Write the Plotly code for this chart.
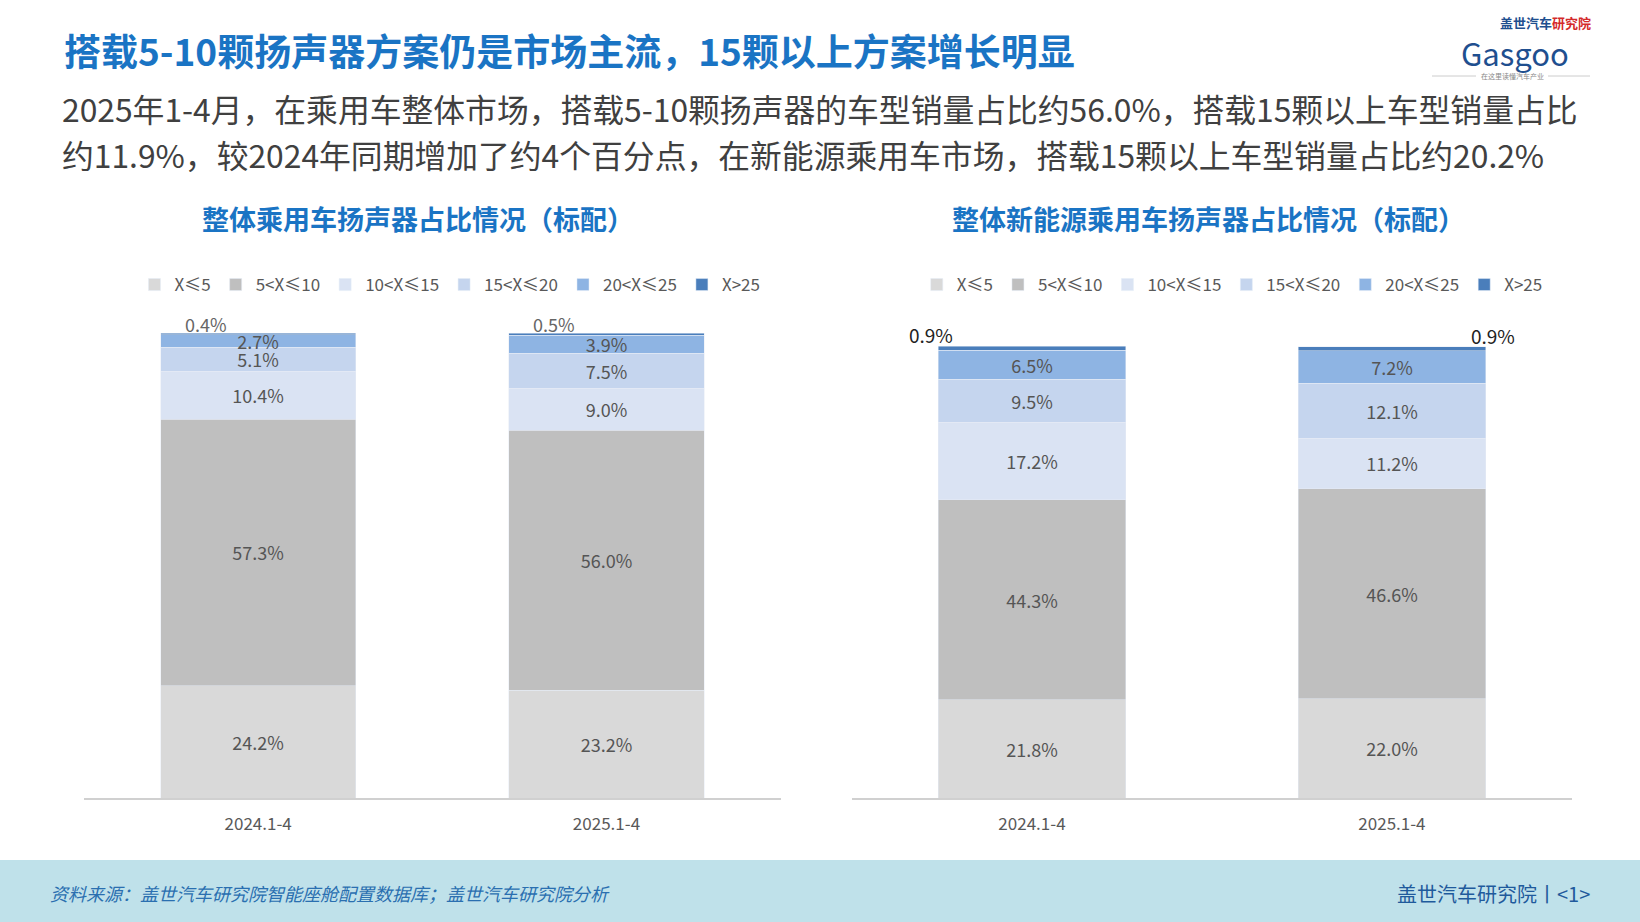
import plotly.graph_objects as go

cats = ["2024.1-4", "2025.1-4"]
series = ["X≤5", "5<X≤10", "10<X≤15", "15<X≤20", "20<X≤25", "X>25"]
legend_labels = ["X≤5", "5<X≤10", "10<X≤15", "15<X≤20", "20<X≤25", "X>25"]
left_vals = [[24.2, 23.2], [57.3, 56.0], [10.4, 9.0], [5.1, 7.5], [2.7, 3.9], [0.4, 0.5]]
right_vals = [[21.8, 22.0], [44.3, 46.6], [17.2, 11.2], [9.5, 12.1], [6.5, 7.2], [0.9, 0.9]]
colors = ["#d9d9d9", "#bfbfbf", "#dae3f3", "#c5d5ee", "#8eb4e3", "#4a7ebb"]

font_cjk = "Noto Sans CJK SC"
lblfont = dict(size=18, color="#555555", family=font_cjk)

fig = go.Figure()
for i, s in enumerate(series):
    top = i == len(series) - 1
    fig.add_trace(go.Bar(x=cats, y=left_vals[i], name=legend_labels[i], marker_color=colors[i],
                         width=0.56, xaxis="x", yaxis="y", legendgroup=s,
                         text=None if top else [f"{v:.1f}%" for v in left_vals[i]],
                         textposition="inside", insidetextanchor="middle", textfont=lblfont,
                         constraintext="none", hoverinfo="skip"))
    fig.add_trace(go.Bar(x=cats, y=right_vals[i], name=legend_labels[i], marker_color=colors[i],
                         width=0.52, xaxis="x2", yaxis="y2", legendgroup=s, showlegend=False,
                         text=None if top else [f"{v:.1f}%" for v in right_vals[i]],
                         textposition="inside", insidetextanchor="middle", textfont=lblfont,
                         constraintext="none", hoverinfo="skip"))

ann = []
for j, c in enumerate(cats):
    tot = sum(v[j] for v in left_vals)
    ann.append(dict(x=j - 0.15, y=tot, xref="x", yref="y", text=f"{left_vals[5][j]:.1f}%", showarrow=False,
                    yanchor="bottom", yshift=-6, font=dict(size=18, color="#666666", family=font_cjk)))
    tot2 = sum(v[j] for v in right_vals)
    ann.append(dict(x=j - 0.28 if j == 0 else j + 0.28, y=tot2, xref="x2", yref="y2",
                    text=f"{right_vals[5][j]:.1f}%", showarrow=False, yanchor="bottom", yshift=-4,
                    font=dict(size=19, color="#222222", family=font_cjk)))

def pa(x, y, text, size, color, anchor="center", bold=False):
    return dict(x=x / 1640, y=1 - y / 922, xref="paper", yref="paper", xanchor=anchor, yanchor="middle",
                showarrow=False, text=f"<b>{text}</b>" if bold else text,
                font=dict(size=size, color=color, family=font_cjk))

ann += [
    pa(62, 50, "搭载5-10颗扬声器方案仍是市场主流，15颗以上方案增长明显", 37, "#1a74c4", "left", True),
    pa(60, 108, "2025年1-4月，在乘用车整体市场，搭载5-10颗扬声器的车型销量占比约56.0%，搭载15颗以上车型销量占比", 31.8, "#404040", "left"),
    pa(60, 154, "约11.9%，较2024年同期增加了约4个百分点，在新能源乘用车市场，搭载15颗以上车型销量占比约20.2%", 31.8, "#404040", "left"),
    pa(418, 218, "整体乘用车扬声器占比情况（标配）", 27, "#1a74c4", bold=True),
    pa(1208, 218, "整体新能源乘用车扬声器占比情况（标配）", 27, "#1a74c4", bold=True),
    pa(48, 893, "<i>资料来源：盖世汽车研究院智能座舱配置数据库；盖世汽车研究院分析</i>", 18, "#2a6fb0", "left"),
    pa(1592, 893, "盖世汽车研究院丨<1>", 20, "#1f5a9c", "right"),
    pa(1545, 22, "<b>盖世汽车</b><b style='color:#d42a2a'>研究院</b>", 13, "#1f4f8f"),
    pa(1515, 52, "Gasgoo", 31, "#1f4f8f"),
    pa(1512, 76, "在这里读懂汽车产业", 7, "#888888"),
]

legfont = dict(size=17, color="#595959", family=font_cjk)
fig.update_layout(
    width=1640, height=922, margin=dict(l=0, r=0, t=0, b=0),
    paper_bgcolor="white", plot_bgcolor="white", barmode="stack",
    uniformtext=dict(minsize=16, mode="show"),
    showlegend=True,
    legend=dict(orientation="h", x=0.082, y=1 - 285 / 922, yanchor="middle", xanchor="left",
                font=legfont, itemwidth=30, traceorder="normal"),
    legend2=dict(orientation="h", x=0.559, y=1 - 285 / 922, yanchor="middle", xanchor="left",
                 font=legfont, itemwidth=30, traceorder="normal"),
    xaxis=dict(domain=[0.0512, 0.476], range=[-0.5, 1.5], showline=True, linecolor="#d0d0d0",
               linewidth=1.5, tickfont=dict(size=17, color="#595959", family=font_cjk),
               ticks="outside", ticklen=10, tickcolor="rgba(0,0,0,0)"),
    yaxis=dict(domain=[124 / 922, 589 / 922], range=[0, 100.1], visible=False),
    xaxis2=dict(domain=[0.5195, 0.9585], range=[-0.5, 1.5], showline=True, linecolor="#d0d0d0",
                linewidth=1.5, tickfont=dict(size=17, color="#595959", family=font_cjk),
                ticks="outside", ticklen=10, tickcolor="rgba(0,0,0,0)", anchor="y2"),
    yaxis2=dict(domain=[124 / 922, 576 / 922], range=[0, 100.2], visible=False, anchor="x2"),
    annotations=ann,
    shapes=[dict(type="rect", xref="paper", yref="paper", x0=0, x1=1, y0=0, y1=1 - 860 / 922,
                 fillcolor="#bfe1ea", line_width=0, layer="below"),
            dict(type="line", xref="paper", yref="paper", x0=1432/1640, x1=1476/1640, y0=1-76/922, y1=1-76/922,
                 line=dict(color="#cccccc", width=1)),
            dict(type="line", xref="paper", yref="paper", x0=1548/1640, x1=1590/1640, y0=1-76/922, y1=1-76/922,
                 line=dict(color="#cccccc", width=1))],
)
for i, s in enumerate(series):
    fig.add_trace(go.Bar(x=[None], y=[None], name=legend_labels[i], marker_color=colors[i],
                         xaxis="x2", yaxis="y2", legend="legend2", showlegend=True, hoverinfo="skip"))
fig.write_html("out.html", config={"displayModeBar": False},
               post_script="document.body.style.margin='0';document.body.style.overflow='hidden';")
